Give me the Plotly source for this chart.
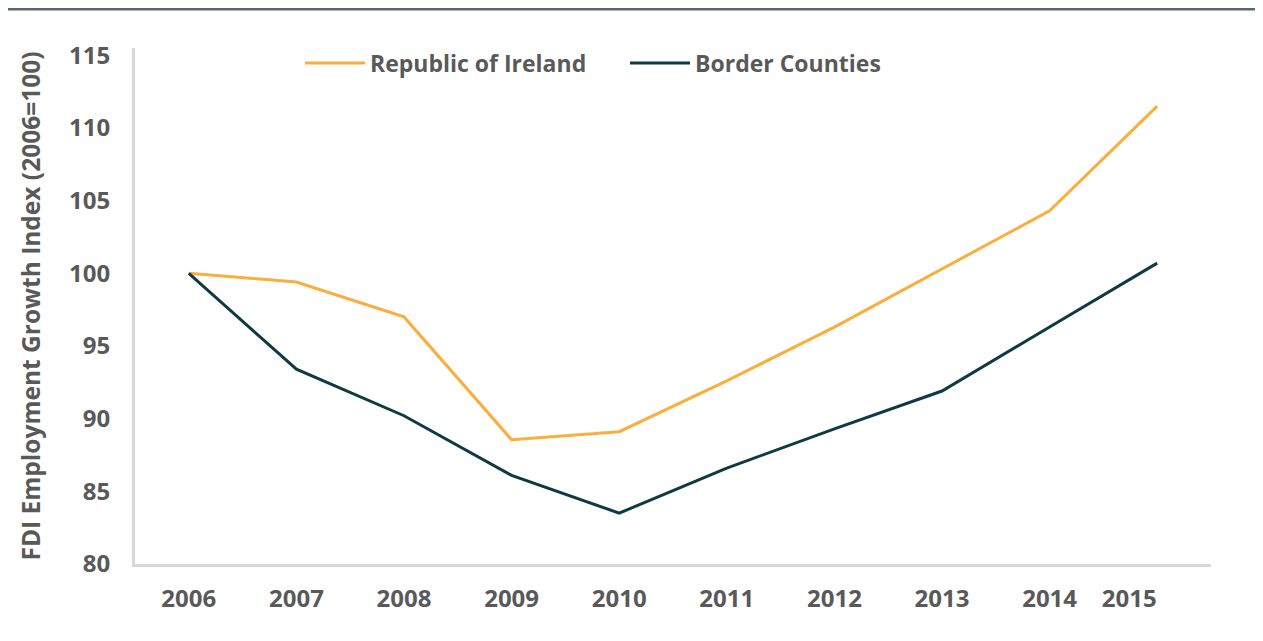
import plotly.graph_objects as go

years = ["2006", "2007", "2008", "2009", "2010", "2011", "2012", "2013", "2014", "2015"]
ireland = [100.0, 99.4, 97.0, 88.55, 89.1, 92.6, 96.3, 100.3, 104.3, 111.5]
border = [100.0, 93.4, 90.2, 86.1, 83.5, 86.6, 89.3, 91.9, 96.3, 100.7]
y_ticks = [80, 85, 90, 95, 100, 105, 110, 115]

ORANGE = "#F9AE3E"
DARK = "#0E3B43"
TXT = "#595959"
AXIS = "#D9D9D9"
FONT = "Open Sans"

# page body has an 8px default margin, so the figure is sized to fit the window
W, H = 1255, 633
ML, MR, MT, MB = 127, 52, 40, 77
PW, PH = W - ML - MR, H - MT - MB

idx = list(range(len(years)))

fig = go.Figure()
fig.add_trace(go.Scatter(x=idx, y=ireland, mode="lines", name="Republic of Ireland",
                         line=dict(color=ORANGE, width=3)))
fig.add_trace(go.Scatter(x=idx, y=border, mode="lines", name="Border Counties",
                         line=dict(color=DARK, width=3)))

# tick positions (last label sits slightly left in the original)
tick_pos = idx[:-1] + [idx[-1] - 0.26]

fig.update_layout(
    width=W, height=H,
    margin=dict(l=ML, r=MR, t=MT, b=MB),
    paper_bgcolor="white", plot_bgcolor="white",
    font=dict(family=FONT, color=TXT, size=24),
    showlegend=True,
    legend=dict(orientation="h", x=(292 - ML) / PW, xanchor="left",
                y=1 - 15 / PH, yanchor="middle",
                font=dict(family=FONT, size=23, color=TXT, weight="bold"),
                itemwidth=60, entrywidth=250, bgcolor="rgba(0,0,0,0)"),
    xaxis=dict(range=[-0.5, 9.5], tickvals=tick_pos, ticktext=years,
               showgrid=False, zeroline=False, showline=True, linecolor=AXIS, linewidth=3,
               ticks="", ticklabelstandoff=11,
               tickfont=dict(family=FONT, size=24, color=TXT, weight="bold")),
    yaxis=dict(range=[80, 115.5], tickvals=y_ticks, ticktext=[str(v) for v in y_ticks],
               showgrid=False, zeroline=False, showline=True, linecolor=AXIS, linewidth=3,
               ticks="", ticklabelstandoff=17,
               title=dict(text="FDI Employment Growth Index (2006=100)", standoff=22,
                          font=dict(family=FONT, size=24.5, color=TXT, weight="bold")),
               tickfont=dict(family=FONT, size=24, color=TXT, weight="bold")),
    shapes=[dict(type="line", xref="paper", yref="paper",
                 x0=-ML / PW, x1=(W - ML) / PW,
                 y0=1 + (MT - 1) / PH, y1=1 + (MT - 1) / PH,
                 line=dict(color="#5A6670", width=3), layer="above")],
)

fig.write_html("out.html")
